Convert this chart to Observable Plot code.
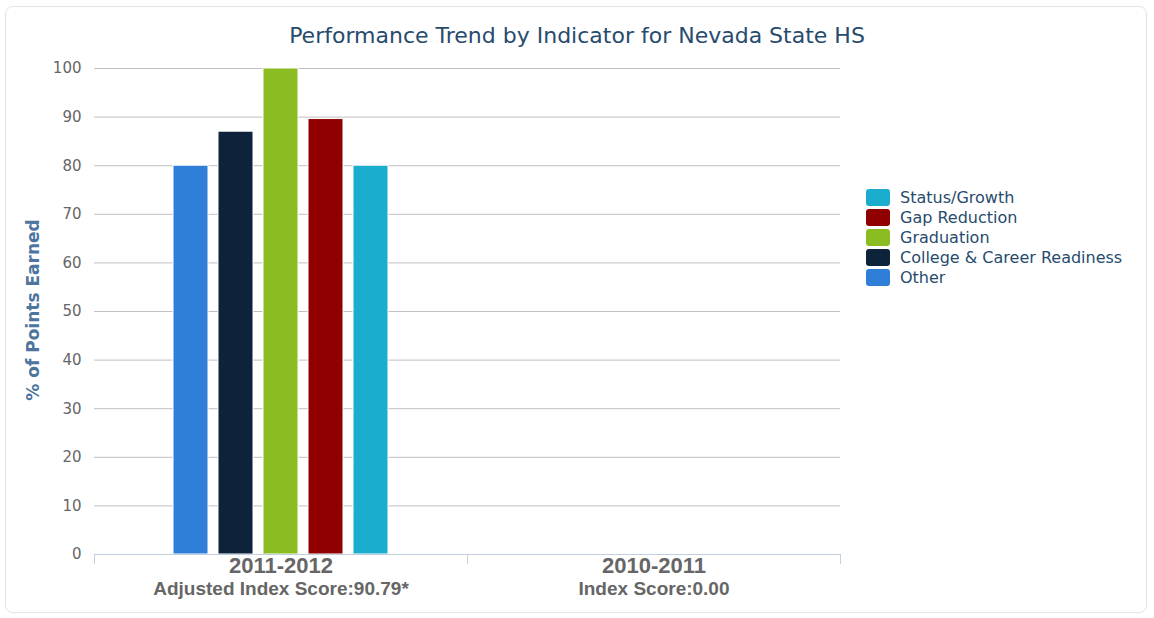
<!DOCTYPE html>
<html>
<head>
<meta charset="utf-8">
<script src="https://cdn.jsdelivr.net/npm/d3@7"></script>
<script src="https://cdn.jsdelivr.net/npm/@observablehq/plot@0.6"></script>
<style>
  html, body { margin: 0; padding: 0; background: #fff; }
  #wrap { position: relative; width: 1154px; height: 618px; overflow: hidden; font-family: "DejaVu Sans", Verdana, sans-serif; }
  #frame { position: absolute; left: 5px; top: 6px; width: 1142px; height: 607px; border: 1px solid #e4e4e4; border-radius: 8px; box-sizing: border-box; }
  #title { position: absolute; left: 0; width: 1154px; top: 22px; text-align: center; font-size: 22px; color: #274b6d; line-height: 28px; }
  #ylabel { position: absolute; left: 33px; top: 310px; transform: translate(-50%, -50%) rotate(-90deg); font-size: 17px; font-weight: bold; color: #4d759e; white-space: nowrap; }
  #legend { position: absolute; left: 866px; top: 187px; }
  .item { display: flex; align-items: center; height: 20px; font-size: 16px; color: #274b6d; }
  .sw { width: 24px; height: 17px; border-radius: 3px; margin-right: 10px; }
  #chart { position: absolute; left: 0; top: 0; }
</style>
</head>
<body>
<div id="wrap">
  <div id="frame"></div>
  <div id="chart"></div>
  <div id="title">Performance Trend by Indicator for Nevada State HS</div>
  <div id="ylabel">% of Points Earned</div>
  <div id="legend"></div>
</div>
<script>
// ---- data ----
const years = ["2011-2012", "2010-2011"];
const yearNotes = ["Adjusted Index Score:90.79*", "Index Score:0.00"];
const indicators = ["Other", "College & Career Readiness", "Graduation", "Gap Reduction", "Status/Growth"];
const values2011_2012 = [80, 87, 100, 89.6, 80];
const colors = ["#2f7ed8", "#0d233a", "#8bbc21", "#910000", "#1aadce"];
const yTicks = [0, 10, 20, 30, 40, 50, 60, 70, 80, 90, 100];
const legendOrder = ["Status/Growth", "Gap Reduction", "Graduation", "College & Career Readiness", "Other"];

const bars = indicators.map((ind, i) => ({ year: years[0], indicator: ind, value: values2011_2012[i] }));
const yearLabels = years.map((y, i) => ({ year: y, note: yearNotes[i] }));

const plot = Plot.plot({
  width: 1154,
  height: 618,
  marginLeft: 94,
  marginRight: 314,
  marginTop: 68,
  marginBottom: 64,
  style: { background: "transparent", overflow: "visible" },
  fx: { domain: years, padding: 0, axis: null },
  x: { domain: indicators, paddingInner: 0.222, paddingOuter: 1.755, axis: null },
  y: { domain: [0, 100], axis: null },
  color: { domain: indicators, range: colors },
  marks: [
    Plot.gridY({ ticks: yTicks.filter(t => t > 0), stroke: "#c0c0c0", strokeOpacity: 1 }),
    Plot.axisY({ ticks: yTicks, tickSize: 0, tickPadding: 13, fontSize: 15, fill: "#666", label: null, fontFamily: "DejaVu Sans" }),
    Plot.barY(bars, { fx: "year", x: "indicator", y: "value", fill: "indicator", stroke: "#fff", strokeWidth: 1 }),
    Plot.ruleY([0], { stroke: "#c0d0e0", strokeWidth: 1 }),
    Plot.text(yearLabels, { fx: "year", text: "year", frameAnchor: "bottom", dy: 18, fontSize: 22, fontWeight: "bold", fill: "#666", fontFamily: "Liberation Sans" }),
    Plot.text(yearLabels, { fx: "year", text: "note", frameAnchor: "bottom", dy: 40, fontSize: 19, fontWeight: "bold", fill: "#666", fontFamily: "Liberation Sans", letterSpacing: "-0.5px" })
  ]
});
document.getElementById("chart").appendChild(plot);

// category boundary ticks on the bottom axis, from the fx scale
const fx = plot.scale("fx");
const y = plot.scale("y");
const edges = years.map(yr => fx.apply(yr)).concat([fx.apply(years[years.length - 1]) + fx.bandwidth]);
const y0 = y.apply(0);
d3.select(plot).append("g").selectAll("line").data(edges).join("line")
  .attr("x1", d => d + 0.5).attr("x2", d => d + 0.5)
  .attr("y1", y0).attr("y2", y0 + 10)
  .attr("stroke", "#c0d0e0");

// legend
const legend = d3.select("#legend");
legendOrder.forEach(name => {
  const it = legend.append("div").attr("class", "item");
  it.append("div").attr("class", "sw").style("background", colors[indicators.indexOf(name)]);
  it.append("span").text(name);
});
</script>
</body>
</html>
